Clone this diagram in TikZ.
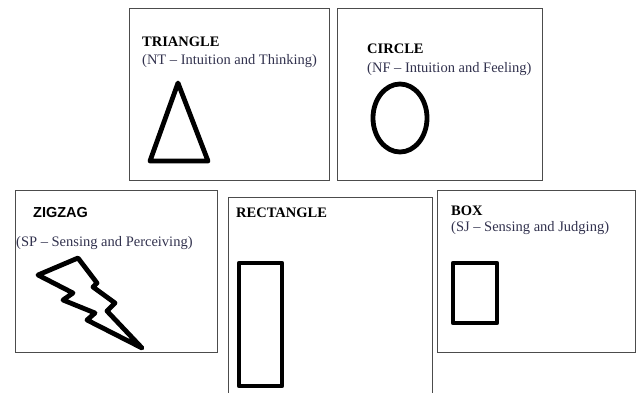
\documentclass[tikz,border=0pt]{standalone}
\usepackage{fontspec}
\setmainfont{Liberation Serif}
\newfontfamily\arialfont{Liberation Sans}
\usetikzlibrary{positioning}

\definecolor{subtxt}{RGB}{50,50,78}

\tikzset{
  panel/.style={draw=black!70, line width=0.9pt, inner sep=0pt, anchor=north west},
  title/.style={anchor=base west, inner sep=0pt, font=\bfseries\fontsize{14.5}{14.5}\selectfont},
  subtitle/.style={anchor=base west, inner sep=0pt, text=subtxt, font=\fontsize{14.5}{14.5}\selectfont},
  figline/.style={line width=4.8pt, line join=round}
}

\begin{document}
\begin{tikzpicture}[x=1pt,y=-1pt]
  \useasboundingbox (0,0) rectangle (637,392);
  \clip (0,0) rectangle (637,392);

  % the five panels
  \node[panel, minimum width=200pt, minimum height=172pt] (tri) at (129,8) {};
  \node[panel, minimum width=205pt, minimum height=172pt] (circ) at (337,8) {};
  \node[panel, minimum width=202pt, minimum height=162pt] (zig) at (15,190) {};
  \node[panel, minimum width=204pt, minimum height=230pt] (rect) at (228,197) {};
  \node[panel, minimum width=198pt, minimum height=162pt] (box) at (437,190) {};

  % titles
  \node[title] (tritl) at (142,46) {TRIANGLE};
  \node[subtitle] (trisub) at (142,64) {(NT -- Intuition and Thinking)};
  \node[title] (circtl) at (367,53) {CIRCLE};
  \node[subtitle] (circsub) at (367,72) {(NF -- Intuition and Feeling)};
  \node[title, font=\arialfont\bfseries\fontsize{14.5}{14.5}\selectfont] (zigtl) at (33,217) {ZIGZAG};
  \node[subtitle] (zigsub) at (16,246) {(SP -- Sensing and Perceiving)};
  \node[title] (recttl) at (236,217) {RECTANGLE};
  \node[title] (boxtl) at (451,215) {BOX};
  \node[subtitle] (boxsub) at (451,231) {(SJ -- Sensing and Judging)};

  % the drawn figures
  \draw[figline] (178,83) -- (208,161) -- (150,161) -- cycle;
  \draw[figline] (400,118) ellipse (27 and 34);
  \draw[figline] (38,275) -- (78,258) -- (97,283) -- (93,287) -- (115,303)
    -- (107,311) -- (142,348) -- (87,320) -- (95,313) -- (63,300)
    -- (73,293) -- cycle;
  \draw[figline] (239,263) rectangle (282,386);
  \draw[figline] (453,263) rectangle (497,323);
\end{tikzpicture}
\end{document}
